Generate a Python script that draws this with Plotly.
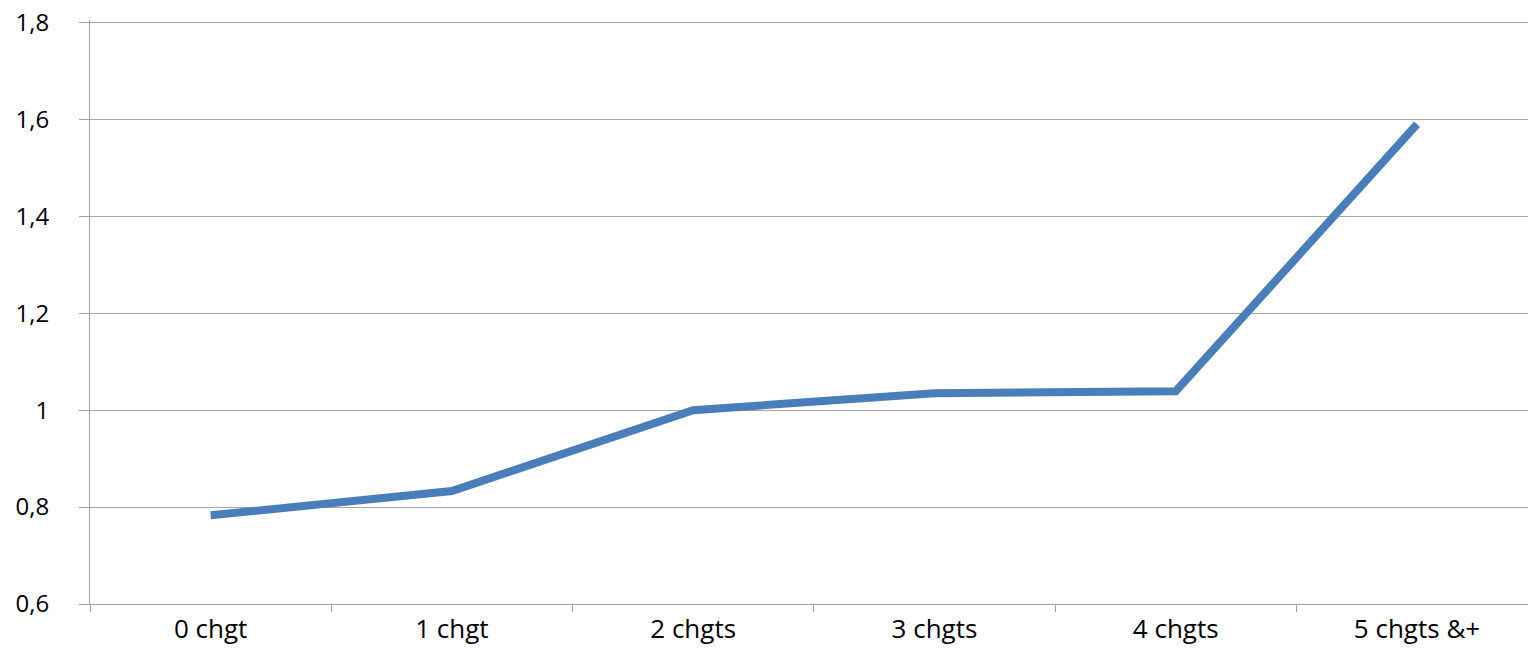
import plotly.graph_objects as go

categories = ["0 chgt", "1 chgt", "2 chgts", "3 chgts", "4 chgts", "5 chgts &+"]
values = [0.783, 0.833, 1.0, 1.035, 1.039, 1.59]
y_ticks = [0.6, 0.8, 1.0, 1.2, 1.4, 1.6, 1.8]
y_tick_labels = ["0,6", "0,8", "1", "1,2", "1,4", "1,6", "1,8"]

fig = go.Figure()
fig.add_trace(go.Scatter(
    x=list(range(len(categories))), y=values, mode="lines",
    line=dict(color="#4a7ebb", width=8),
    showlegend=False, hoverinfo="skip",
))

fig.update_layout(
    width=1528, height=649,
    margin=dict(l=90, r=0, t=20, b=45),
    paper_bgcolor="white", plot_bgcolor="white",
    font=dict(family="Open Sans", size=26, color="#000000"),
    separators=", ",
)
fig.update_xaxes(
    range=[-0.5, 5.46], automargin=False,
    tickmode="array", tickvals=list(range(len(categories))), ticktext=categories,
    showgrid=False, zeroline=False,
    showline=True, linecolor="#a0a0a0", linewidth=1,
    ticks="", tickfont=dict(size=26),
    ticklabelstandoff=2,
    minor=dict(tickmode="array", tickvals=[i - 0.5 for i in range(len(categories) + 1)],
               ticks="outside", ticklen=7, tickcolor="#a0a0a0", tickwidth=1, showgrid=False),
)
fig.update_yaxes(
    range=[0.6, 1.805], automargin=False,
    tickmode="array", tickvals=y_ticks, ticktext=y_tick_labels,
    showgrid=True, gridcolor="#a6a6a6", gridwidth=1,
    zeroline=False,
    showline=True, linecolor="#a0a0a0", linewidth=1,
    ticks="outside", ticklen=10, tickcolor="#a0a0a0",
    ticklabelstandoff=25, ticklabeloverflow="allow",
    tickfont=dict(size=24),
)

fig.write_html("out.html", config={"displayModeBar": False},
               post_script="document.body.style.margin='0';")
